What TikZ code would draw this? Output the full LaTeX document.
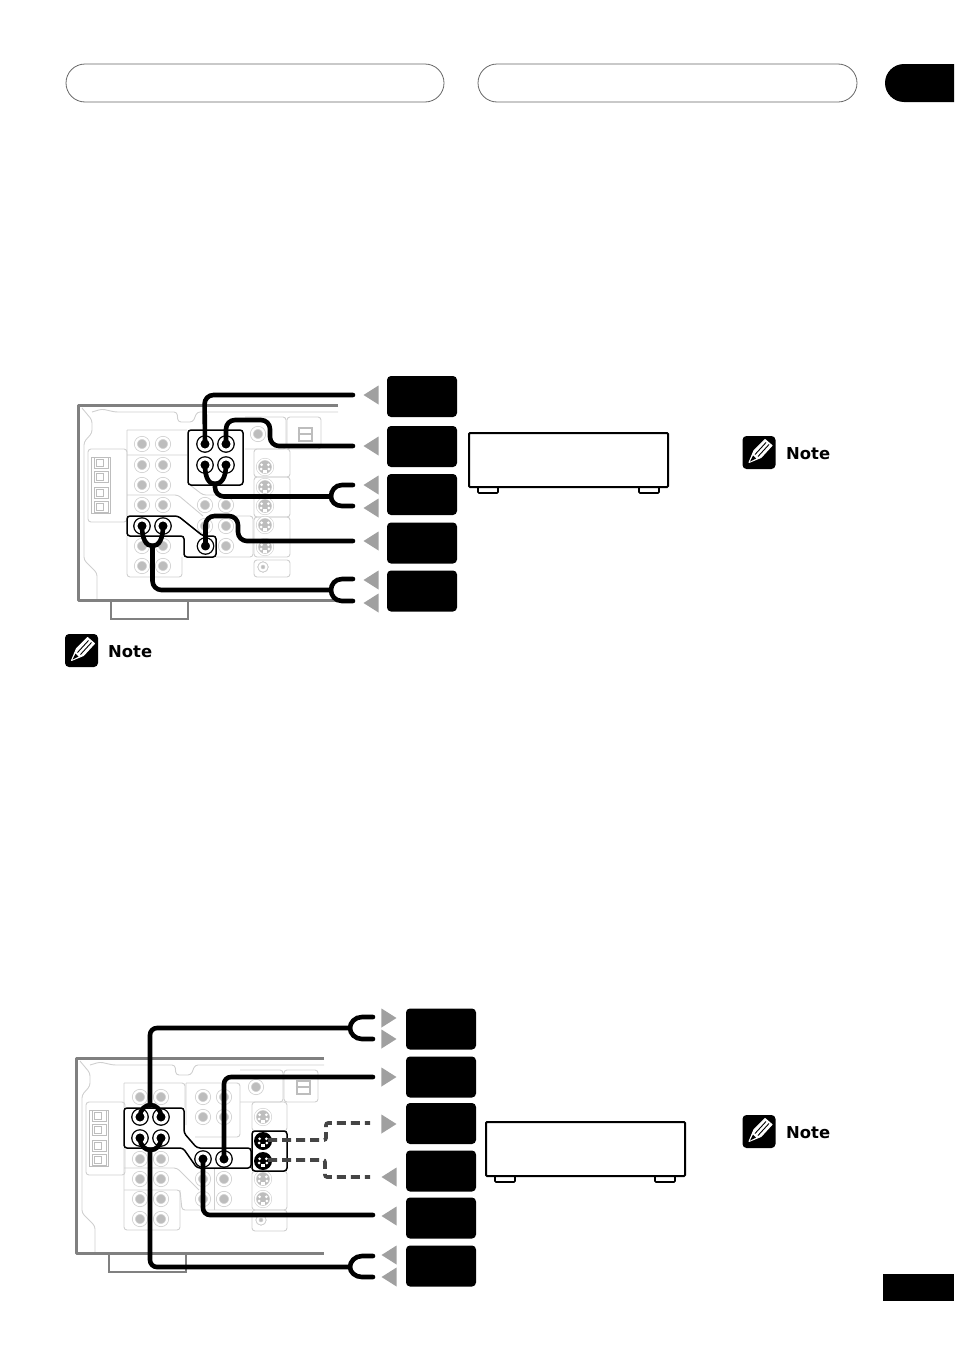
\documentclass[tikz,border=0pt]{standalone}
\usepackage{fontspec}
\setsansfont{DejaVu Sans}
\usetikzlibrary{shapes,positioning,calc}

\definecolor{framegray}{HTML}{808080}
\definecolor{wiregray}{HTML}{CFCFCF}
\definecolor{dotgray}{HTML}{BDBDBD}
\definecolor{trigray}{HTML}{A0A0A0}
\definecolor{dashgray}{HTML}{454545}

\tikzset{
  cable/.style={line width=4.6pt, line cap=round, black},
  svideo cable/.style={line width=3.6pt, dashgray, dash pattern=on 9pt off 5pt, rounded corners=2pt},
  group box/.style={line width=1.5pt, black, fill=white, rounded corners=3pt},
  thin wire/.style={line width=.9pt, wiregray, rounded corners=3pt},
  jack/.style={circle, inner sep=0pt},
  jack gray/.style={jack, minimum size=12.2pt, line width=.8pt, double distance=2.2pt, draw=wiregray, double=white, fill=dotgray},
  jack black/.style={jack, minimum size=12pt, line width=1.3pt, double distance=3pt, draw=black, double=white, fill=black},
  jack tiny/.style={jack, minimum size=7pt, line width=.8pt, double distance=2pt, draw=wiregray, double=white, fill=dotgray},
  sjack gray/.style={jack, minimum size=15.4pt, line width=.6pt, double distance=1.4pt, draw=wiregray, double=white, fill=dotgray},
  sjack black/.style={jack, minimum size=18pt, fill=black},
  opt jack/.style={rectangle, inner sep=0pt, minimum size=13pt, draw=dotgray, line width=2pt, fill=white},
  label box/.style={rectangle, fill=black, rounded corners=4pt, inner sep=0pt, minimum width=70pt, minimum height=41pt},
  tri left/.style={isosceles triangle, isosceles triangle stretches, shape border rotate=180, fill=trigray,
                   inner sep=0pt, minimum width=19pt, minimum height=15pt, anchor=apex},
  tri right/.style={isosceles triangle, isosceles triangle stretches, shape border rotate=0, fill=trigray,
                    inner sep=0pt, minimum width=19pt, minimum height=15pt, anchor=apex},
  device/.style={rectangle, draw=black, line width=2pt, fill=white, rounded corners=1pt, inner sep=0pt,
                 minimum width=199pt, minimum height=54pt},
  device foot/.style={rectangle, draw=black, line width=1.6pt, fill=white, rounded corners=1pt, inner sep=0pt,
                      minimum width=20pt, minimum height=6pt},
  header box/.style={rectangle, draw=black!60, line width=.8pt, rounded corners=19pt, inner sep=0pt, minimum height=38pt},
  note icon/.style={rectangle, fill=black, rounded corners=4pt, inner sep=0pt, minimum size=33pt},
  note text/.style={font=\sffamily\bfseries\fontsize{16.4pt}{18pt}\selectfont, inner sep=0pt, anchor=west}
}

% s-video socket with its pins
\newcommand{\sjack}[4]{%
  \node[#1] (#2) at (#3,#4) {};
  \foreach \px/\py in {-3.4/-2.2,3.4/-2.2,-3.8/2,3.8/2}
    \fill[white] ([shift={(\px,\py)}]#2.center) circle (1.5);
  \fill[white] ([shift={(-2,3)}]#2.center) rectangle ([shift={(2,6)}]#2.center);
}

% forked end of a cable
\newcommand{\forkcable}[3]{%
  \draw[cable] (#1) -- ([xshift=-11pt]#1) .. controls ([xshift=-18pt]#1) and ($(#3)!.5!(#3 |- #1)$) .. (#3)
        .. controls ($(#3)!.5!(#3 |- #2)$) and ([xshift=-18pt]#2) .. ([xshift=-11pt]#2) -- (#2);
}

% pencil note
\newcommand{\noteicon}[3]{%
  \node[note icon] (#1) at (#2,#3) {};
  \begin{scope}[shift={(#1.center)}]
    \filldraw[white, line width=1pt, line join=round, fill=white] (-10,10) -- (-5,-2) -- (6,-13) -- (13,-7) -- (2,5) -- cycle;
    \draw[black, line width=.9pt] (-4,2) -- (7,-10) (-1,4) -- (10,-8);
    \fill[black] (-9,9) -- (-6,3) -- (-3,6) -- cycle;
  \end{scope}
}

% rear panel parts that both pictures share
\newcommand{\panelframe}[1]{%
  \draw[thin wire] (82,408) -- (92,420) -- (92,433) -- (84,442) -- (84,560) -- (97,573) -- (97,600);
  \draw[thin wire] (92,412) -- (102,409) -- (115,412) -- (177,412) -- (178,422) -- (193,422) -- (197,412) -- (#1,412);
  \draw[framegray, line width=3pt, line join=round] (#1,405) -- (78,405) -- (78,600) -- (#1,600);
  \draw[framegray, line width=2pt] (111,601) -- (111,619) -- (188,619) -- (188,601);
  \draw[thin wire] (88,449) rectangle (127,522);
  \draw[dotgray, line width=.8pt] (91,457) rectangle (110,513);
  \foreach \ty in {463,477,493,507} {
    \draw[dotgray, line width=.8pt] (94,\ty-5.5) rectangle (108,\ty+5.5);
    \draw[dotgray, line width=.8pt] (96,\ty-3.5) rectangle (103,\ty+3.5);
  }
}

\begin{document}
\begin{tikzpicture}[x=1pt, y=-1pt]
        \useasboundingbox (0,0) rectangle (954,1352);

        % Page furniture
        \node[header box, minimum width=378pt] (headl) at (255,83) {};
        \node[header box, minimum width=379pt] (headr) at (667.5,83) {};
        \fill (954,64) [rounded corners=19pt] -- (885,64) -- (885,102) [sharp corners] -- (954,102) -- cycle;
        \fill (883,1274) rectangle (954,1301);

        % First panel
        \begin{scope}
            \panelframe{338}
            \draw[thin wire] (127,430) -- (187,430) (127,430) -- (127,516) (127,455) -- (187,455)
                             (127,495) -- (178,495) -- (203,516);
            \draw[thin wire] (127,536) -- (127,577) -- (182,577) -- (182,557);
            \draw[thin wire] (190,485) -- (203,495) -- (253,495) (217,516) -- (253,516) -- (253,557) -- (216,557);
            \draw[thin wire] (245,417) -- (286,417) -- (286,449) -- (245,449);
            \draw[thin wire] (287,417) rectangle (321,449);
            \draw[thin wire] (254,449) rectangle (290,477);
            \draw[thin wire] (254,477) rectangle (290,517);
            \draw[thin wire] (254,517) rectangle (290,557);
            \draw[thin wire] (254,560) rectangle (290,577);
        \end{scope}

        \foreach \x/\y in {142/444,163/444,142/465,163/465,142/485,163/485,142/505,163/505,
                           142/546,163/546,142/566,163/566,205/505,226/505,205/526,226/526,226/546,258/434}
            \node[jack gray] (a\x-\y) at (\x,\y) {};
        \foreach \y/\s in {467/a,487/b,506/c,525/d,547/e}
            \sjack{sjack gray}{as\s}{265}{\y}
        \node[jack tiny] (asmall) at (263,567) {};
        \node[opt jack] (aopt) at (305,434) {};
        \draw[dotgray, line width=2.5pt] (aopt.west) -- (aopt.east);

        \draw[group box] (188,430) rectangle (243,485);
        \draw[group box] (127,516) -- (178,516) -- (203,536) -- (216,536) -- (216,557) -- (184,557) -- (184,536) -- (127,536) -- cycle;

        \node[jack black] (jal) at (205,444) {};
        \node[jack black] (jar) at (226,444) {};
        \node[jack black] (jbl) at (205,465) {};
        \node[jack black] (jbr) at (226,465) {};
        \node[jack black] (jc)  at (205.5,546) {};
        \node[jack black] (jdl) at (142,526) {};
        \node[jack black] (jdr) at (163,526) {};

        % Cable ends at the labels
        \coordinate (enda)  at (353,395);
        \coordinate (endb)  at (353,446);
        \coordinate (endc1) at (353,485);
        \coordinate (endc2) at (353,506);
        \coordinate (endd)  at (353,541);
        \coordinate (ende1) at (353,579);
        \coordinate (ende2) at (353,601);
        \coordinate (forkc) at (331,496.5);
        \coordinate (forke) at (331,590);
        \coordinate (mergec) at (215,484);
        \coordinate (mergee) at (152.5,546);

        \draw[cable, rounded corners=9pt] (jal.center) -- (204.5,395) -- (enda);
        \draw[cable, rounded corners=9pt] (jar.center) -- (226,420) -- (270,420) -- (270,446) -- (endb);
        \draw[cable, rounded corners=9pt] (mergec) -- (215,496.5) -- (forkc);
        \draw[cable] (jbl.center) .. controls (205,478) and (209,484) .. (mergec);
        \draw[cable] (jbr.center) .. controls (226,478) and (221,484) .. (mergec);
        \forkcable{endc1}{endc2}{forkc}
        \draw[cable, rounded corners=9pt] (jc.center) -- (205.5,516) -- (238,516) -- (238,541) -- (endd);
        \draw[cable] (jdl.center) .. controls (142,539) and (146,546) .. (mergee);
        \draw[cable] (jdr.center) .. controls (163,539) and (159,546) .. (mergee);
        \draw[cable, rounded corners=9pt] (mergee) -- (152.5,590) -- (forke);
        \forkcable{ende1}{ende2}{forke}

        % Arrows and labels
        \foreach \y/\s in {395/a,446/b,485/c,508/d,541/e,580/f,603/g}
            \node[tri left] (ta\s) at (363,\y) {};
        \node[label box] (la) at (422,396.5) {};
        \node[label box] (lb) at (422,446.5) {};
        \node[label box] (lc) at (422,494.5) {};
        \node[label box] (ld) at (422,543) {};
        \node[label box] (le) at (422,591) {};

        \node[device foot] (fa1) at (488,490) {};
        \node[device foot] (fa2) at (649,490) {};
        \node[device] (deva) at (568.5,460) {};

        % Second panel
        \begin{scope}[shift={(-2,653)}]
            \panelframe{326}
        \end{scope}
        \draw[thin wire] (124,1083) -- (185,1083) -- (185,1108) (124,1083) -- (124,1108);
        \draw[thin wire] (186,1083) -- (240,1083) -- (240,1137) -- (195,1137) (186,1083) -- (186,1125);
        \draw[thin wire] (240,1070) -- (283,1070) -- (283,1102) -- (240,1102);
        \draw[thin wire] (284,1070) rectangle (318,1102);
        \draw[thin wire] (252,1102) rectangle (287,1131);
        \draw[thin wire] (252,1171) rectangle (287,1210);
        \draw[thin wire] (252,1210) rectangle (287,1231);
        \draw[thin wire] (124,1148) -- (124,1230) -- (180,1230) -- (180,1190);
        \draw[thin wire] (124,1168) -- (177,1168) -- (199,1190);
        \draw[thin wire] (124,1190) -- (180,1190) -- (182,1210) -- (252,1210);
        \draw[thin wire] (214,1168) -- (214,1210);

        \foreach \x/\y in {140/1097,161/1097,140/1159,161/1159,140/1179,161/1179,140/1199,161/1199,
                           140/1219,161/1219,203/1097,224/1097,203/1117,224/1117,203/1179,224/1179,
                           203/1199,224/1199,256/1087}
            \node[jack gray] (b\x-\y) at (\x,\y) {};
        \foreach \y/\s in {1117/a,1179/b,1199/c}
            \sjack{sjack gray}{bs\s}{263}{\y}
        \node[jack tiny] (bsmall) at (261,1220) {};
        \node[opt jack] (bopt) at (303,1087) {};
        \draw[dotgray, line width=2.5pt] (bopt.west) -- (bopt.east);

        \draw[group box] (124,1108) -- (184,1108) -- (184,1133) -- (197,1148) -- (251,1148) -- (251,1168) -- (197,1168) -- (183,1148) -- (124,1148) -- cycle;
        \draw[group box] (252,1131) rectangle (287,1171);

        \node[jack black] (kal) at (140,1117) {};
        \node[jack black] (kar) at (161,1117) {};
        \node[jack black] (kbl) at (140,1138) {};
        \node[jack black] (kbr) at (161,1138) {};
        \node[jack black] (kcl) at (203,1159) {};
        \node[jack black] (kcr) at (224,1159) {};
        \sjack{sjack black}{ksa}{263}{1141}
        \sjack{sjack black}{ksb}{263}{1161}

        % Cable ends at the labels
        \coordinate (enp1) at (373,1017);
        \coordinate (enp2) at (373,1039);
        \coordinate (enq)  at (373,1077);
        \coordinate (enr)  at (370,1123);
        \coordinate (ens)  at (370,1177);
        \coordinate (ent)  at (373,1215);
        \coordinate (enu1) at (373,1256);
        \coordinate (enu2) at (373,1277);
        \coordinate (forkp) at (350,1028);
        \coordinate (forku) at (350,1267);
        \coordinate (mergep) at (150,1105.5);
        \coordinate (mergeu) at (150,1150);

        \draw[cable] (kal.center) .. controls (140,1101) and (161,1101) .. (kar.center);
        \draw[cable] (kbl.center) .. controls (140,1154) and (161,1154) .. (kbr.center);
        \draw[cable, rounded corners=7pt] (mergep) -- (150,1028) -- (forkp);
        \forkcable{enp1}{enp2}{forkp}
        \draw[cable, rounded corners=7pt] (kcr.center) -- (224,1077) -- (enq);
        \draw[svideo cable] (ksa.center) ++(5,-1) -- (326,1140) -- (326,1123) -- (enr);
        \draw[svideo cable] (ksb.center) ++(5,-1) -- (325,1160) -- (325,1177) -- (ens);
        \draw[cable, rounded corners=7pt] (kcl.center) -- (203,1215) -- (ent);
        \draw[cable, rounded corners=7pt] (mergeu) -- (150,1267) -- (forku);
        \forkcable{enu1}{enu2}{forku}

        % Arrows and labels
        \foreach \y/\s in {1018/a,1039/b,1077/c,1124/d}
            \node[tri right] (tb\s) at (397,\y) {};
        \foreach \y/\s in {1177/e,1216/f,1255/g,1277/h}
            \node[tri left] (tb\s) at (381,\y) {};
        \node[label box] (ma) at (441,1029) {};
        \node[label box] (mb) at (441,1077) {};
        \node[label box] (mc) at (441,1123.5) {};
        \node[label box] (md) at (441,1171) {};
        \node[label box] (me) at (441,1218) {};
        \node[label box] (mf) at (441,1266) {};

        \node[device foot] (fb1) at (505,1179) {};
        \node[device foot] (fb2) at (665,1179) {};
        \node[device] (devb) at (585.5,1149) {};

        % Notes
        \noteicon{nia}{81.5}{650.5}
        \node[note text] (nta) at (108,652) {Note};
        \noteicon{nib}{759}{452.5}
        \node[note text] (ntb) at (786,454) {Note};
        \noteicon{nic}{759}{1131.5}
        \node[note text] (ntc) at (786,1133) {Note};
\end{tikzpicture}
\end{document}
